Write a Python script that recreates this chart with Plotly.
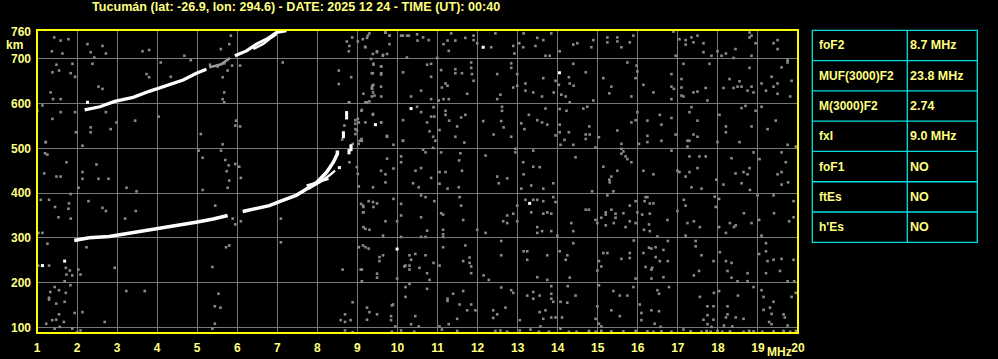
import plotly.graph_objects as go

# ---------------- data ----------------
title_text = "Tucumán (lat: -26.9, lon: 294.6) - DATE: 2025 12 24 - TIME (UT): 00:40"
freq_ticks = list(range(1, 21))
height_ticks = [100, 200, 300, 400, 500, 600, 700]
height_top_tick = [760]

table_params = ["foF2", "MUF(3000)F2", "M(3000)F2", "fxI", "foF1", "ftEs", "h'Es"]
table_values = ["8.7 MHz", "23.8 MHz", "2.74", "9.0 MHz", "NO", "NO", "NO"]

# first-hop O trace (two segments) and branches
o1a_f = [1.93, 2.3, 2.8, 3.22, 3.72, 4.3, 4.97, 5.4, 5.76]
o1a_h = [294, 300, 303, 309, 316, 325, 335, 342, 350]
o1b_f = [6.135, 6.47, 6.8, 7.135, 7.47, 7.64, 7.985, 8.235, 8.4, 8.5, 8.5]
o1b_h = [359, 365, 372, 384, 395, 404, 424, 447, 469, 488, 495]
o1c_f = [7.78, 8.07, 8.32, 8.44]
o1c_h = [410, 425, 441, 450]
o1d_f = [7.73, 8.28]
o1d_h = [417, 432]
# second-hop trace
o2a_f = [2.19, 2.57, 2.94, 3.4, 3.82, 4.23, 4.65, 4.98, 5.23]
o2a_h = [586, 593, 605, 614, 628, 640, 653, 668, 677]
o2g_f = [5.3, 5.45, 5.6, 5.82]
o2g_h = [681, 685, 688, 702]
o2b_f = [5.94, 6.23, 6.48, 6.73, 6.98, 7.23]
o2b_h = [707, 718, 733, 744, 759, 763]
o2c_f = [6.4, 6.65, 6.86, 6.98]
o2c_h = [722, 733, 748, 755]
# x-trace / bright isolated echoes
bright_f = [8.73, 8.73, 8.73, 8.65, 8.65, 8.65, 8.84, 8.84, 8.84, 8.79, 8.79, 8.55,
            12.14, 14.045, 10.34, 9.45, 13.3, 9.99, 1.135, 1.69, 2.26]
bright_h = [568, 574, 580, 526, 531, 535, 497, 502, 506, 490, 495, 457,
            726, 669, 589, 553, 377, 275, 238, 248, 603]

# gray noise echoes (freq MHz, height km)
noise = [
 (9.3,757),(9.24,747),(9.7,759),(9.8,752),(9.8,733),(10.09,752),(10.24,752),(10.49,755),(10.5,741),
 (10.64,748),(10.78,742),(11.15,733),(11.25,741),(11.34,757),(11.445,741),(11.695,747),(11.9,752),
 (11.9,742),(11.28,718),(10.99,702),(9.19,727),(9.49,717),(9.64,709),(9.74,711),(11.99,735),
 (12.34,726),(12.445,757),(12.89,729),(12.92,712),(13.04,735),(13.15,757),(13.14,726),(13.49,747),
 (13.64,742),(13.445,729),(13.695,707),(13.8,707),(13.84,757),(14.05,717),(14.39,732),(14.49,735),
 (9.4,687),(9.59,683),(9.36,668),(9.59,665),(9.4,642),(9.36,635),(9.39,625),(9.59,638),(9.15,622),
 (9.36,616),(9.24,603),(10.14,670),(10.34,616),(10.59,629),(10.74,687),(10.84,689),(10.84,660),
 (10.84,610),(11.09,675),(11.11,636),(11.2,645),(11.25,640),(11.445,677),(11.445,668),(11.61,668),
 (11.03,607),(11.15,610),(11.28,610),(11.74,622),(11.84,692),(11.84,680),(11.86,666),(11.9,651),
 (12.49,666),(12.57,620),(12.49,610),(12.84,690),(12.84,680),(12.89,636),(12.99,666),(12.99,640),
 (13.195,645),(13.195,629),(13.39,625),(13.64,657),(13.61,616),(13.9,625),(13.945,651),(14.03,642),
 (14.09,620),(14.28,659),(14.3,645),(14.39,689),(14.4,640),(14.2,616),(14.3,603),
 (9.39,577),(9.11,586),(9.2,558),(9.59,558),(9.74,526),(9.9,508),(9.11,517),(10.14,563),(10.14,517),
 (10.49,593),(10.59,581),(10.74,558),(10.84,571),(10.9,592),(10.92,571),(10.8,538),(10.89,526),
 (10.945,517),(11.05,541),(11.2,584),(11.2,575),(11.29,562),(11.49,549),(11.59,569),(11.695,575),
 (11.445,526),(11.67,513),(12.14,561),(12.4,531),(12.61,593),(12.61,584),(12.65,547),(12.59,561),
 (12.84,526),(13.09,556),(13.17,543),(13.28,575),(13.49,563),(13.61,558),(13.74,553),(13.695,589),
 (13.945,529),(14.05,588),(14.05,553),(14.05,536),(14.22,584),(14.28,536),(14.17,519),(14.07,508),
 (14.39,508),
 (9.59,450),(9.74,477),(9.7,442),(9.9,455),(10.09,482),(10.09,469),(10.45,450),(10.59,456),(10.64,497),
 (10.7,491),(10.84,434),(10.89,501),(11.05,447),(11.09,491),(11.2,447),(11.57,489),(11.61,450),
 (11.54,473),(12.2,484),(12.49,437),(12.74,433),(12.945,499),(12.945,491),(13.14,469),(13.15,442),
 (13.39,495),(13.39,459),(13.55,458),(14.445,480),
 (14.89,742),(14.84,726),(15.24,748),(15.24,737),(15.49,748),(15.49,739),(15.59,726),(15.8,737),
 (15.89,752),(16.89,761),(17.04,744),(17.195,742),(17.195,732),(17.34,748),(17.39,737),(17.49,752),
 (17.64,735),(17.64,715),(17.84,707),(16.945,707),(17.99,717),(18.09,707),(18.2,712),(18.39,702),
 (18.44,722),(18.79,759),(18.79,748),(18.84,752),(18.94,735),(18.84,707),(19.39,735),(19.49,742),
 (19.49,722),(19.74,692),
 (14.7,670),(15.14,657),(15.34,638),(15.29,623),(15.74,692),(15.97,685),(15.99,672),(15.945,657),
 (16.14,642),(16.39,625),(15.84,616),(14.89,607),(16.84,666),(16.84,638),(16.9,633),(16.84,610),
 (17.14,689),(17.09,655),(17.09,636),(17.09,618),(17.14,616),(17.39,625),(17.49,627),(17.695,635),
 (17.74,607),(17.79,689),(18.14,635),(18.29,655),(18.39,635),(18.54,650),(18.49,638),(18.59,638),
 (18.74,629),(18.84,638),(18.89,625),(18.79,680),(19.09,645),(19.2,629),(19.34,660),(19.39,638),
 (19.49,645),(19.49,622),(19.59,681),(19.84,651),(19.805,616),(19.74,697),
 (14.64,589),(14.74,593),(14.79,549),(14.7,531),(14.8,531),(14.7,521),(15.03,525),(14.945,502),
 (15.49,540),(15.59,510),(15.84,558),(15.945,563),(15.99,581),(16.03,510),(16.24,562),(16.24,528),
 (16.24,514),(16.55,575),(16.59,553),(16.59,517),(16.84,568),(16.945,531),(17.34,592),(17.29,581),
 (17.49,562),(17.39,531),(17.49,526),(17.24,517),(17.29,517),(17.24,504),(18.04,575),(17.99,514),
 (18.2,549),(18.2,536),(18.54,514),(18.59,590),(18.69,595),(18.84,549),(18.94,584),(19.09,593),
 (19.24,543),(19.445,562),(19.74,508),(19.945,504),
 (15.14,459),(15.34,437),(15.29,430),(15.49,450),(15.59,499),(15.64,493),(15.59,488),(15.695,482),
 (15.74,476),(15.84,469),(16.14,450),(16.39,442),(16.84,495),(16.99,450),(17.04,447),(17.195,437),
 (17.29,447),(17.29,482),(17.54,482),(17.49,456),(17.695,482),(17.96,430),(18.34,478),(18.44,444),
 (18.64,447),(18.74,442),(18.79,456),(18.89,491),(19.04,476),(19.59,491),(19.695,469),(19.59,447),
 (19.49,442),
 (9.39,413),(9.7,424),(10.39,422),(10.53,413),(11.05,421),(11.25,410),(11.53,413),(12.53,422),
 (13.09,410),(13.34,417),(13.64,410),(13.89,422),(9.14,372),(9.14,357),(9.28,382),(9.39,380),
 (9.49,377),(9.4,369),(9.9,387),(10.09,376),(10.09,350),(10.59,395),(10.7,391),(10.92,382),
 (11.09,355),(11.14,352),(11.55,391),(11.59,372),(11.64,340),(10.59,346),(9.7,337),(9.2,320),
 (9.3,318),(9.64,305),(9.99,337),(10.09,302),(10.59,302),(10.7,302),(10.74,316),(11.14,318),
 (11.14,308),(11.14,302),(11.99,318),(12.2,311),(12.74,350),(12.74,333),(12.64,337),(12.89,354),
 (12.99,372),(12.99,337),(13.195,385),(13.39,385),(13.49,385),(13.64,382),(13.34,357),(13.64,354),
 (13.74,357),(13.84,354),(13.945,380),(13.89,391),(13.49,324),(13.49,311),(13.61,315),(13.84,315),
 (13.99,305),(14.34,333),(14.39,315),
 (9.14,283),(9.28,276),(9.55,257),(9.55,248),(9.64,261),(9.11,229),(9.49,220),(9.49,211),(9.11,203),
 (9.99,209),(10.2,238),(10.17,236),(10.3,261),(10.34,251),(10.3,238),(10.3,229),(10.445,264),
 (10.55,233),(10.7,261),(10.74,221),(10.8,206),(10.9,244),(11.05,238),(11.14,279),(11.64,248),
 (11.695,283),(11.8,256),(11.8,244),(11.84,236),(11.84,221),(12.15,216),(12.28,206),(12.59,293),
 (12.59,261),(13.15,270),(13.24,270),(13.24,251),(13.49,212),(13.74,206),(13.74,261),(14.05,270),
 (14.2,251),(14.24,261),(14.3,211),(14.39,288),
 (9.24,144),(9.3,134),(9.24,117),(9.49,129),(9.86,149),(9.89,151),(9.84,125),(9.84,116),(9.945,102),
 (10.2,190),(10.2,168),(10.3,197),(10.445,125),(10.34,107),(10.53,102),(10.74,186),(11.05,102),
 (11.25,164),(11.25,159),(11.28,107),(11.39,175),(11.55,151),(11.49,119),(11.64,181),(11.74,138),
 (11.84,151),(11.945,138),(12.39,138),(12.49,129),(12.39,121),(12.695,144),(12.59,189),(12.84,183),
 (12.89,177),(13.055,116),(13.24,171),(13.39,179),(13.39,164),(13.55,171),(13.55,134),(13.695,138),
 (13.84,175),(13.84,164),(13.89,157),(13.84,122),(13.945,122),(13.64,119),(13.57,102),(13.84,192),
 (14.07,157),(14.24,155),(14.25,192),(14.445,171),(14.11,122),
 (9.86,90),(10.09,93),(10.42,90),(11.11,95),(11.49,92),(12.445,92),(12.57,93),(12.74,90),(13.055,93),
 (13.32,95),(13.53,90),(13.78,90),(14.07,97),(14.28,90),(14.47,90),
 (15.3,424),(14.86,404),(15.39,404),(15.24,395),(16.195,391),(16.24,391),(16.17,382),(16.3,377),
 (16.39,377),(15.8,372),(15.945,382),(14.7,363),(14.78,363),(15.2,357),(15.2,352),(15.34,363),
 (15.445,354),(15.64,355),(15.99,357),(16.11,352),(16.3,354),(14.945,340),(14.99,333),(15.09,345),
 (15.2,328),(15.4,333),(15.445,345),(15.695,324),(15.8,337),(15.945,333),(16.28,330),(16.155,318),
 (16.3,315),(16.49,303),(16.74,340),(16.99,360),(17.15,385),(17.195,372),(17.34,413),(17.59,410),
 (17.92,392),(17.945,369),(18.03,387),(18.14,419),(18.59,422),(18.8,407),(18.99,395),(19.39,395),
 (19.59,419),(19.755,424),(19.89,382),(19.4,355),(18.65,355),(18.03,324),(18.2,311),(18.3,333),
 (18.4,324),(18.445,328),(18.84,333),(19.03,340),(19.09,305),(19.78,337),(19.89,346),(17.24,333),
 (17.4,337),(17.55,324),(17.195,305),
 (15.9,294),(16.28,278),(16.34,276),(16.445,279),(16.64,273),(16.75,293),(16.14,266),(16.445,257),
 (16.55,248),(16.75,248),(16.34,229),(16.36,233),(16.34,209),(16.195,235),(16.64,212),(15.945,209),
 (15.8,266),(15.8,255),(15.59,253),(15.14,266),(15.24,266),(15.03,248),(15.09,236),(14.99,227),
 (17.445,293),(17.445,281),(17.59,261),(17.89,248),(17.53,226),(17.4,216),(18.05,268),(18.2,248),
 (18.34,244),(18.24,226),(18.34,211),(18.49,203),(18.74,221),(18.74,203),(19.03,264),(19.2,288),
 (19.2,270),(19.24,248),(19.39,251),(19.59,253),(19.55,226),(19.2,221),(19.89,251),(19.74,203),
 (19.905,203),
 (15.03,194),(15.39,181),(15.55,171),(15.74,171),(15.89,190),(14.99,147),(15.34,138),(14.945,119),
 (15.55,125),(15.03,108),(15.09,102),(16.05,151),(16.09,132),(16.09,116),(16.34,138),(16.53,136),
 (16.49,183),(16.53,175),(16.78,190),(16.42,108),(16.57,101),(17.55,168),(17.9,177),(17.74,147),
 (17.89,147),(17.74,127),(17.64,117),(17.89,117),(17.74,107),(17.84,101),(18.03,181),(18.5,171),
 (18.89,190),(18.24,147),(18.24,129),(18.2,122),(18.445,122),(18.64,119),(18.15,104),(18.36,102),
 (19.09,183),(19.14,168),(19.39,157),(19.14,139),(19.3,144),(19.34,130),(19.64,129),(19.67,122),
 (19.84,168),(19.945,177),(19.28,112),(19.34,107),(19.74,104),
 (14.78,92),(14.945,90),(15.09,92),(15.34,91),(15.64,91),(15.945,92),(16.24,91),(16.39,90),(16.59,91),
 (16.84,90),(17.14,95),(17.32,91),(17.59,90),(17.72,92),(17.82,90),(17.99,92),(18.11,90),(18.3,91),
 (18.64,90),(18.78,92),(18.89,91),(19.11,90),(19.39,91),(19.64,92),(19.805,90),(19.945,92),
 (1.03,238),(1.3,238),(1.72,233),(1.82,227),(1.735,218),(1.88,216),(2.03,229),(2.085,218),(2.94,233),
 (1.69,203),(1.835,194),(1.44,190),(1.33,179),(1.3,166),(1.3,162),(1.55,183),(1.72,177),(1.48,153),
 (1.69,157),(1.94,132),(2.135,134),(1.55,129),(1.38,116),(1.23,108),(1.48,117),(1.67,112),(1.57,101),
 (1.44,97),(1.88,97),(2.085,93),(2.0,89),(2.69,112),(3.23,181),(3.69,181),(5.38,235),(5.53,175),
 (5.44,147),(5.58,144),(5.44,108),(5.38,97),(8.63,229),(8.69,129),(8.58,116),(8.69,112),(8.83,116),
 (8.88,156),(8.69,93),(8.88,89),(9.08,229),
 (1.43,748),(1.59,741),(1.785,744),(1.37,717),(1.635,712),(2.26,733),(2.34,715),(2.43,703),(2.635,729),
 (2.72,712),(2.385,689),(1.885,689),(1.485,687),(1.55,674),(1.385,670),(1.84,668),(1.95,660),
 (3.635,717),(3.8,720),(4.09,692),(3.735,666),(3.8,659),(4.34,660),(4.68,707),(4.84,697),(2.535,638),
 (2.635,633),(1.34,625),(1.4,610),(1.59,610),(1.135,596),(1.01,584),(1.59,581),(1.385,566),(1.95,581),
 (2.72,581),(2.34,547),(2.34,536),(2.84,543),(2.985,558),(3.45,562),(4.035,571),(1.22,514),(2.135,506),
 (1.97,536),(5.09,532),(5.8,733),(5.84,752),(5.59,722),(5.675,690),(5.76,674),(5.635,659),(5.675,625),
 (5.635,610),(5.675,603),(5.97,562),(5.95,551),(6.07,549),(6.07,685),(5.87,685),(7.135,692),(5.51,683),
 (5.32,687),
 (8.735,739),(8.8,729),(8.785,717),(8.87,748),(9.01,739),(9.135,744),(9.26,752),(9.2,726),(9.385,711),
 (9.34,700),(9.485,715),(9.635,707),(9.7,759),(9.8,752),(10.135,752),(10.285,752),(10.235,703),
 (8.535,674),(8.845,659),(8.535,644),(8.8,603),(9.01,566),(9.035,558),(9.1,584),(9.3,605),(9.2,603),
 (9.4,689),(9.595,683),(9.385,668),(9.595,668),(9.37,640),(9.37,633),(9.425,618),(9.595,616),
 (9.735,528),(10.135,517),(9.595,558),(9.385,575),(8.95,543),(8.95,563),(9.035,510),(9.1,521),
 (1.218,514),(1.2,489),(1.26,486),(1.735,469),(2.485,464),(2.135,447),(2.135,432),(2.535,432),
 (2.785,432),(1.485,437),(1.59,437),(1.18,444),(2.035,412),(3.235,412),(3.485,404),(1.84,398),
 (1.093,385),(1.3,385),(2.285,382),(1.8,377),(1.785,365),(1.45,369),(2.635,367),(2.72,360),(1.843,343),
 (1.535,346),(3.2,343),(3.468,360),(1.035,311),(1.135,311),(1.26,287),(2.235,279),(5.035,495),
 (5.135,479),(5.595,495),(5.635,509),(5.7,474),(5.785,462),(5.735,449),(5.8,428),(5.95,465),(6.05,459),
 (5.76,412),(6.09,434),(5.135,407),(5.45,372),(5.885,343),(5.95,330),(6.09,337),(5.8,283),(5.72,279),
 (7.09,343),(7.09,290),(8.785,603),(8.675,551),(8.62,520),(8.95,555),(8.95,532),(8.99,540),(9.06,517),
 (8.885,510),(8.8,469),(8.985,458),(9.035,415),(9.01,443),(9.15,369),(9.15,357),(9.15,324),(9.09,376),
 (9.035,279),(9.2,279),
]
noise_f = [p[0] for p in noise]
noise_h = [p[1] for p in noise]

# ---------------- style / layout constants ----------------
W, H = 998, 359
ML, MR, MT, MB = 37, 200, 30, 26
PW, PH = W - ML - MR, H - MT - MB
TXT = "#ffff80"
BORDER = "#ffff00"
GRID = "#787878"
CYAN = "#00e0e0"
FONT = "Liberation Sans"

def px_x(px):
    return (px - ML) / PW

def px_y(py):
    return (H - MB - py) / PH

fig = go.Figure()

fig.add_trace(go.Scatter(x=noise_f, y=noise_h, mode="markers",
                         marker=dict(symbol="square", size=2.6, color="#8a8a8a", line=dict(width=0)),
                         hoverinfo="skip", showlegend=False))

def add_line(fx, hy, color="white", width=3):
    fig.add_trace(go.Scatter(x=fx, y=hy, mode="lines", line=dict(color=color, width=width),
                             hoverinfo="skip", showlegend=False))

add_line(o2g_f, o2g_h, color="#9a9a9a", width=2.5)
for fx, hy in [(o1a_f, o1a_h), (o1b_f, o1b_h)]:
    add_line(fx, hy, width=3.5)
for fx, hy in [(o2a_f, o2a_h), (o2b_f, o2b_h)]:
    add_line(fx, hy, width=3.2)
for fx, hy in [(o1c_f, o1c_h), (o1d_f, o1d_h), (o2c_f, o2c_h)]:
    add_line(fx, hy, width=2.3)

fig.add_trace(go.Scatter(x=bright_f, y=bright_h, mode="markers",
                         marker=dict(symbol="square", size=3, color="white", line=dict(width=0)),
                         hoverinfo="skip", showlegend=False))

xr = [1.0, 20.0]
yr = [87.3, 764.6]
tickfont = dict(family=FONT, size=12, color=TXT)

fig.update_layout(
    width=W, height=H, autosize=False,
    margin=dict(l=ML, r=MR, t=MT, b=MB, pad=0, autoexpand=False),
    paper_bgcolor="black", plot_bgcolor="black",
    showlegend=False,
    font=dict(family=FONT, size=12, color=TXT),
    xaxis=dict(range=xr, tickvals=freq_ticks, ticktext=[str(v) for v in freq_ticks],
               showgrid=True, gridcolor=GRID, gridwidth=1, zeroline=False, showline=False,
               ticks="", tickfont=tickfont, ticklabelstandoff=6, fixedrange=True, automargin=False),
    yaxis=dict(range=yr, tickvals=height_ticks, ticktext=[str(v) for v in height_ticks],
               showgrid=True, gridcolor=GRID, gridwidth=1, zeroline=False, showline=False,
               ticks="", tickfont=tickfont, ticklabelstandoff=5, fixedrange=True, automargin=False),
    yaxis2=dict(range=yr, overlaying="y", side="left", tickvals=height_top_tick,
                ticktext=[str(v) for v in height_top_tick], showgrid=False, zeroline=False,
                showline=False, ticks="", tickfont=tickfont, ticklabelstandoff=5, fixedrange=True,
                automargin=False),
)
# dummy trace to activate yaxis2
fig.add_trace(go.Scatter(x=[None], y=[None], yaxis="y2", showlegend=False, hoverinfo="skip"))

shapes = [dict(type="rect", xref="paper", yref="paper", x0=0, x1=1, y0=0, y1=1,
               line=dict(color=BORDER, width=2), layer="above")]

# table
t_left, t_mid, t_right = 812.3, 907.3, 977.3
t_top, t_bot = 30.3, 242.3
n = len(table_params)
row_h = (t_bot - t_top) / n
shapes.append(dict(type="rect", xref="paper", yref="paper", x0=px_x(t_left), x1=px_x(t_right),
                   y0=px_y(t_bot), y1=px_y(t_top), line=dict(color=CYAN, width=1.3)))
shapes.append(dict(type="line", xref="paper", yref="paper", x0=px_x(t_mid), x1=px_x(t_mid),
                   y0=px_y(t_bot), y1=px_y(t_top), line=dict(color=CYAN, width=1.3)))
annotations = []
for i in range(n):
    if i > 0:
        yy = t_top + i * row_h
        shapes.append(dict(type="line", xref="paper", yref="paper", x0=px_x(t_left), x1=px_x(t_right),
                           y0=px_y(yy), y1=px_y(yy), line=dict(color=CYAN, width=1.3)))
    yc = t_top + (i + 0.5) * row_h
    annotations.append(dict(xref="paper", yref="paper", x=px_x(817), y=px_y(yc), text=table_params[i],
                            showarrow=False, xanchor="left", yanchor="middle",
                            font=dict(family=FONT, size=12, color=TXT)))
    annotations.append(dict(xref="paper", yref="paper", x=px_x(908), y=px_y(yc), text=table_values[i],
                            showarrow=False, xanchor="left", yanchor="middle",
                            font=dict(family=FONT, size=12.5, color=TXT)))

annotations.append(dict(xref="paper", yref="paper", x=px_x(90), y=px_y(7), text=title_text,
                        showarrow=False, xanchor="left", yanchor="middle",
                        font=dict(family=FONT, size=12.6, color=TXT)))
annotations.append(dict(xref="paper", yref="paper", x=px_x(14), y=px_y(45), text="km",
                        showarrow=False, xanchor="center", yanchor="middle",
                        font=dict(family=FONT, size=12, color=TXT)))
annotations.append(dict(xref="paper", yref="paper", x=px_x(779), y=px_y(352), text="MHz",
                        showarrow=False, xanchor="center", yanchor="middle",
                        font=dict(family=FONT, size=12, color=TXT)))

fig.update_layout(shapes=shapes, annotations=annotations)
fig.update_annotations(font_weight="bold")
fig.update_xaxes(tickfont_weight="bold")
fig.update_yaxes(tickfont_weight="bold")

fig.write_html("out.html")
